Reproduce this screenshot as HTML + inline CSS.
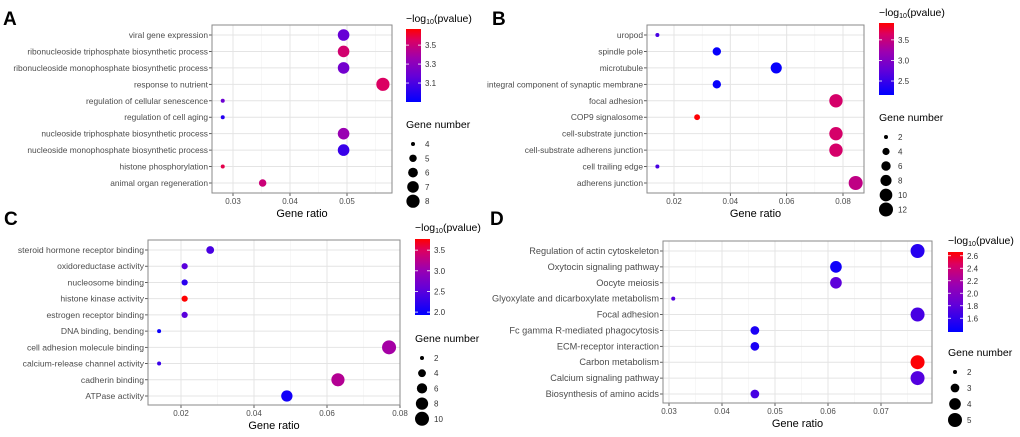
<!DOCTYPE html>
<html><head><meta charset="utf-8">
<style>
html,body{margin:0;padding:0;background:#fff;width:1020px;height:437px;overflow:hidden}
svg text{font-family:"Liberation Sans",Arial,sans-serif}
</style></head>
<body>
<svg id="fig" width="1020" height="437" viewBox="0 0 1020 437" xmlns="http://www.w3.org/2000/svg">
<defs>
<linearGradient id="cbar" x1="0" y1="1" x2="0" y2="0">
<stop offset="0" stop-color="#0000ff"/><stop offset="0.35" stop-color="#6400d8"/><stop offset="0.6" stop-color="#9c00b0"/><stop offset="0.85" stop-color="#dc0060"/><stop offset="1" stop-color="#ff0000"/>
</linearGradient>
</defs>
<text x="3" y="25" font-size="19" font-weight="bold">A</text>
<text x="492" y="25" font-size="19" font-weight="bold">B</text>
<text x="4" y="225" font-size="19" font-weight="bold">C</text>
<text x="490" y="225" font-size="19" font-weight="bold">D</text>
</svg>
<script>
const catsA=["viral gene expression","ribonucleoside triphosphate biosynthetic process","ribonucleoside monophosphate biosynthetic process","response to nutrient","regulation of cellular senescence","regulation of cell aging","nucleoside triphosphate biosynthetic process","nucleoside monophosphate biosynthetic process","histone phosphorylation","animal organ regeneration"];
const ratioA=[0.0494,0.0494,0.0494,0.0563,0.0282,0.0282,0.0494,0.0494,0.0282,0.0352];
const countA=[7,7,7,8,4,4,7,7,4,5];
const pvalA=[3.18,3.52,3.22,3.55,3.2,3.0,3.35,3.05,3.58,3.5];
const xTicksA=[0.03,0.04,0.05];
const cTicksA=[3.1,3.3,3.5];
const sTicksA=[4,5,6,7,8];

const catsB=["uropod","spindle pole","microtubule","integral component of synaptic membrane","focal adhesion","COP9 signalosome","cell-substrate junction","cell-substrate adherens junction","cell trailing edge","adherens junction"];
const ratioB=[0.0141,0.0352,0.0563,0.0352,0.0775,0.0282,0.0775,0.0775,0.0141,0.0845];
const countB=[2,5,8,5,11,3,11,11,2,12];
const pvalB=[2.6,2.2,2.2,2.2,3.6,3.9,3.6,3.6,2.6,3.45];
const xTicksB=[0.02,0.04,0.06,0.08];
const cTicksB=[2.5,3.0,3.5];
const sTicksB=[2,4,6,8,10,12];

const catsC=["steroid hormone receptor binding","oxidoreductase activity","nucleosome binding","histone kinase activity","estrogen receptor binding","DNA binding, bending","cell adhesion molecule binding","calcium-release channel activity","cadherin binding","ATPase activity"];
const ratioC=[0.028,0.021,0.021,0.021,0.021,0.014,0.077,0.014,0.063,0.049];
const countC=[4,3,3,3,3,2,10,2,9,7];
const pvalC=[2.4,2.5,2.2,3.77,2.5,2.0,3.1,2.3,3.2,2.05];
const xTicksC=[0.02,0.04,0.06,0.08];
const cTicksC=[2.0,2.5,3.0,3.5];
const sTicksC=[2,4,6,8,10];

const catsD=["Regulation of actin cytoskeleton","Oxytocin signaling pathway","Oocyte meiosis","Glyoxylate and dicarboxylate metabolism","Focal adhesion","Fc gamma R-mediated phagocytosis","ECM-receptor interaction","Carbon metabolism","Calcium signaling pathway","Biosynthesis of amino acids"];
const ratioD=[0.0769,0.0615,0.0615,0.0308,0.0769,0.0462,0.0462,0.0769,0.0769,0.0462];
const countD=[5,4,4,2,5,3,3,5,5,3];
const pvalD=[1.55,1.45,1.8,1.75,1.7,1.5,1.5,2.65,1.75,1.7];
const xTicksD=[0.03,0.04,0.05,0.06,0.07];
const cTicksD=[1.6,1.8,2.0,2.2,2.4,2.6];
const sTicksD=[2,3,4,5];

const svg=document.getElementById('fig');
const NS="http://www.w3.org/2000/svg";
function mk(tag,attrs,parent){const e=document.createElementNS(NS,tag);for(const k in attrs)e.setAttribute(k,attrs[k]);(parent||svg).appendChild(e);return e;}
const stops=[[0,[0,0,255]],[0.35,[100,0,216]],[0.6,[156,0,176]],[0.85,[220,0,96]],[1,[255,0,0]]];
function colorAt(t){t=Math.max(0,Math.min(1,t));for(let i=1;i<stops.length;i++){if(t<=stops[i][0]){const a=stops[i-1],b=stops[i];const f=(t-a[0])/(b[0]-a[0]);const c=a[1].map((v,j)=>Math.round(v+(b[1][j]-v)*f));return `rgb(${c[0]},${c[1]},${c[2]})`;}}return 'rgb(255,0,0)';}

function panel(o,cats,ratio,count,pval,xTicks,cTicks,sTicks){
  const g=mk('g',{});
  
  
  const xs=v=>o.x0+(v-o.xv0)*(o.x1-o.x0)/(o.xv1-o.xv0);
  const n=cats.length;
  const ys=i=>o.rowTop+i*(o.rowBot-o.rowTop)/(n-1);
  const rs=c=>Math.sqrt(o.rmin*o.rmin+(o.rmax*o.rmax-o.rmin*o.rmin)*(c-o.cmin)/(o.cmax-o.cmin));
  const cs=p=>colorAt((p-o.pmin)/(o.pmax-o.pmin));
  mk('rect',{x:o.px0,y:o.py0,width:o.px1-o.px0,height:o.py1-o.py0,fill:'#fff'},g);
  for(let i=0;i<xTicks.length+1;i++){
    const step=xTicks[1]-xTicks[0];const v=xTicks[0]+(i-0.5)*step;const x=xs(v);
    if(x>o.px0&&x<o.px1)mk('line',{x1:x,x2:x,y1:o.py0,y2:o.py1,stroke:'#f2f2f2','stroke-width':0.6},g);
  }
  xTicks.forEach((v,i)=>{const x=xs(v);
    const l=mk('line',{x1:x,x2:x,y1:o.py0,y2:o.py1,stroke:'#e4e4e4','stroke-width':1},g);
    
    mk('line',{x1:x,x2:x,y1:o.py1,y2:o.py1+3,stroke:'#333','stroke-width':0.8},g);
    const t=mk('text',{x:x,y:o.py1+11,'font-size':8,fill:'#4d4d4d','text-anchor':'middle'},g);
    t.textContent=v.toFixed(2);
    
  });
  cats.forEach((c,i)=>{const y=ys(i);
    mk('line',{x1:o.px0,x2:o.px1,y1:y,y2:y,stroke:'#e4e4e4','stroke-width':1},g);
    mk('line',{x1:o.px0-3,x2:o.px0,y1:y,y2:y,stroke:'#333','stroke-width':0.8},g);
    const t=mk('text',{x:o.px0-4,y:y+3,'font-size':o.fs,fill:'#4d4d4d','text-anchor':'end'},g);
    t.textContent=c;
    
  });
  mk('rect',{x:o.px0,y:o.py0,width:o.px1-o.px0,height:o.py1-o.py0,fill:'none',stroke:'#8a8a8a','stroke-width':1},g);
  cats.forEach((c,i)=>{
    const d=mk('circle',{cx:xs(ratio[i]),cy:ys(i),r:rs(count[i]),fill:cs(pval[i])},g);
    
  });
  const xl=mk('text',{x:(o.px0+o.px1)/2,y:o.py1+24,'font-size':11,fill:'#000','text-anchor':'middle'},g);
  xl.textContent='Gene ratio';
  
  const ct=mk('text',{x:o.cbx,y:o.cty,'font-size':10.5,fill:'#000'},g);
  ct.innerHTML='\u2212log<tspan font-size="7" dy="2">10</tspan><tspan dy="-2">(pvalue)</tspan>';
  
  const cb=mk('rect',{x:o.cbx,y:o.cby0,width:15,height:o.cby1-o.cby0,fill:'url(#cbar)'},g);
  
  const cy=p=>o.cby1-(p-o.pmin)*(o.cby1-o.cby0)/(o.pmax-o.pmin);
  cTicks.forEach(v=>{const y=cy(v);
    mk('line',{x1:o.cbx,x2:o.cbx+3,y1:y,y2:y,stroke:'#fff','stroke-width':0.8},g);
    mk('line',{x1:o.cbx+12,x2:o.cbx+15,y1:y,y2:y,stroke:'#fff','stroke-width':0.8},g);
    const t=mk('text',{x:o.cbx+19,y:y+3,'font-size':8,fill:'#333'},g);
    t.textContent=v.toFixed(1);
    
  });
  const st=mk('text',{x:o.cbx,y:o.sty,'font-size':10.5,fill:'#000'},g);
  st.textContent='Gene number';
  
  sTicks.forEach((v,i)=>{const y=o.sty+16+i*o.sstep;
    const c=mk('circle',{cx:o.cbx+7,cy:y,r:rs(v),fill:'#000'},g);
    
    const t=mk('text',{x:o.cbx+19,y:y+3,'font-size':8,fill:'#333'},g);t.textContent=v;
  });
}
panel({id:'a',px0:212,px1:392,py0:25,py1:193,rowTop:35,rowBot:183,x0:233,x1:347,xv0:0.03,xv1:0.05,fs:8.4,
  rmin:2,rmax:6.6,cmin:4,cmax:8,pmin:2.9,pmax:3.67,cbx:406,cby0:29,cby1:102,cty:22,sty:128,sstep:14.3},catsA,ratioA,countA,pvalA,xTicksA,cTicksA,sTicksA);
panel({id:'b',px0:647,px1:864,py0:25,py1:193,rowTop:35,rowBot:183,x0:674,x1:843,xv0:0.02,xv1:0.08,fs:8.4,
  rmin:2,rmax:7,cmin:2,cmax:12,pmin:2.16,pmax:3.91,cbx:879,cby0:23,cby1:95,cty:16,sty:121,sstep:14.5},catsB,ratioB,countB,pvalB,xTicksB,cTicksB,sTicksB);
panel({id:'c',px0:148,px1:400,py0:240,py1:405,rowTop:250,rowBot:396,x0:181,x1:400,xv0:0.02,xv1:0.08,fs:8.6,
  rmin:2,rmax:7,cmin:2,cmax:10,pmin:1.93,pmax:3.77,cbx:415,cby0:239,cby1:315,cty:231,sty:342,sstep:15.2},catsC,ratioC,countC,pvalC,xTicksC,cTicksC,sTicksC);
panel({id:'d',px0:663,px1:932,py0:241,py1:403,rowTop:251,rowBot:394,x0:669,x1:881,xv0:0.03,xv1:0.07,fs:9.2,
  rmin:2,rmax:7,cmin:2,cmax:5,pmin:1.38,pmax:2.66,cbx:948,cby0:252,cby1:332,cty:244,sty:356,sstep:16},catsD,ratioD,countD,pvalD,xTicksD,cTicksD,sTicksD);
</script>
</body></html>
